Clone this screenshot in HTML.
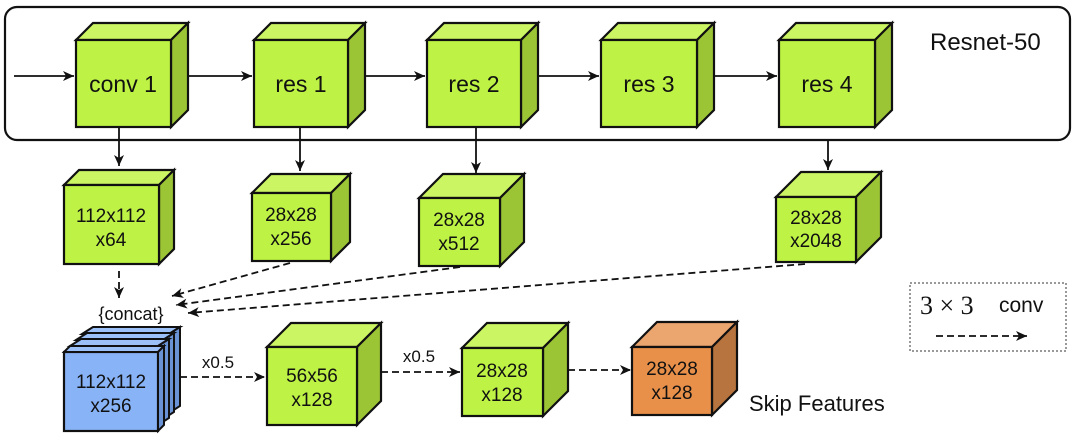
<!DOCTYPE html>
<html><head><meta charset="utf-8"><style>
html,body{margin:0;padding:0;background:#fff;}
svg{display:block;}
text{font-family:"Liberation Sans",sans-serif;fill:#111;}
.f{fill:#bef244;stroke:#111;stroke-width:2.2;}
.t{fill:#cbf562;stroke:#111;stroke-width:2.2;}
.s{fill:#9cc536;stroke:#111;stroke-width:2.2;}
.bf{fill:#88b3f7;stroke:#111;stroke-width:2.2;}
.bt{fill:#9cc0f8;stroke:#111;stroke-width:2;}
.bs{fill:#6a93d6;stroke:#111;stroke-width:2;}
.of{fill:#e8904a;stroke:#111;stroke-width:2.2;}
.ot{fill:#eba56e;stroke:#111;stroke-width:2.2;}
.os{fill:#b8743e;stroke:#111;stroke-width:2.2;}
.l{stroke:#111;stroke-width:1.8;fill:none;}
.d{stroke:#111;stroke-width:1.8;fill:none;stroke-dasharray:7,4;}
</style></head><body>
<svg width="1080" height="436" viewBox="0 0 1080 436" xmlns="http://www.w3.org/2000/svg">
<defs>
<marker id="a" markerWidth="12" markerHeight="10" refX="11" refY="5" orient="auto" markerUnits="userSpaceOnUse">
<path d="M0,0 L11,5 L0,10 L3,5 Z" fill="#111"/></marker>
</defs>
<rect x="5" y="7" width="1065" height="133" rx="12" fill="none" stroke="#111" stroke-width="2.2"/>
<text x="930" y="50" font-size="24">Resnet-50</text>

<line class="l" x1="14" y1="76" x2="74" y2="76" marker-end="url(#a)"/>
<line class="l" x1="189" y1="76" x2="252" y2="76" marker-end="url(#a)"/>
<line class="l" x1="366" y1="76" x2="425" y2="76" marker-end="url(#a)"/>
<line class="l" x1="539" y1="76" x2="599" y2="76" marker-end="url(#a)"/>
<line class="l" x1="714" y1="76" x2="777" y2="76" marker-end="url(#a)"/>

<g>
<polygon class="t" points="76,40 93,23 188,23 171,40"/><polygon class="s" points="171,40 188,23 188,110 171,127"/><rect class="f" x="76" y="40" width="95" height="87"/>
<text x="123" y="92" font-size="23" text-anchor="middle">conv 1</text>
<polygon class="t" points="254,40 271,23 365,23 348,40"/><polygon class="s" points="348,40 365,23 365,110 348,127"/><rect class="f" x="254" y="40" width="94" height="87"/>
<text x="301" y="92" font-size="23" text-anchor="middle">res 1</text>
<polygon class="t" points="427,40 444,23 538,23 521,40"/><polygon class="s" points="521,40 538,23 538,110 521,127"/><rect class="f" x="427" y="40" width="94" height="87"/>
<text x="474" y="92" font-size="23" text-anchor="middle">res 2</text>
<polygon class="t" points="601,40 618,23 714,23 697,40"/><polygon class="s" points="697,40 714,23 714,110 697,127"/><rect class="f" x="601" y="40" width="96" height="87"/>
<text x="649" y="92" font-size="23" text-anchor="middle">res 3</text>
<polygon class="t" points="779,40 796,23 892,23 875,40"/><polygon class="s" points="875,40 892,23 892,110 875,127"/><rect class="f" x="779" y="40" width="96" height="87"/>
<text x="827" y="92" font-size="23" text-anchor="middle">res 4</text>
</g>

<line class="l" x1="119" y1="127" x2="119" y2="166" marker-end="url(#a)"/>
<line class="l" x1="300" y1="127" x2="300" y2="171" marker-end="url(#a)"/>
<line class="l" x1="476" y1="127" x2="476" y2="173" marker-end="url(#a)"/>
<line class="l" x1="828" y1="140" x2="828" y2="170" marker-end="url(#a)"/>

<polygon class="t" points="64,185 79,170 174,170 159,185"/><polygon class="s" points="159,185 174,170 174,249 159,264"/><rect class="f" x="64" y="185" width="95" height="79"/>
<text x="111" y="222" font-size="19" text-anchor="middle">112x112</text><text x="111" y="246" font-size="19" text-anchor="middle">x64</text>

<polygon class="t" points="252,193 271,174 350,174 331,193"/><polygon class="s" points="331,193 350,174 350,242 331,261"/><rect class="f" x="252" y="193" width="79" height="68"/>
<text x="291" y="221" font-size="19" text-anchor="middle">28x28</text><text x="291" y="245" font-size="19" text-anchor="middle">x256</text>

<polygon class="t" points="419,198 443,174 524,174 500,198"/><polygon class="s" points="500,198 524,174 524,242 500,266"/><rect class="f" x="419" y="198" width="81" height="68"/>
<text x="459" y="226" font-size="19" text-anchor="middle">28x28</text><text x="459" y="250" font-size="19" text-anchor="middle">x512</text>

<polygon class="t" points="776,197 801,172 881,172 856,197"/><polygon class="s" points="856,197 881,172 881,237 856,262"/><rect class="f" x="776" y="197" width="80" height="65"/>
<text x="816" y="224" font-size="19" text-anchor="middle">28x28</text><text x="816" y="247" font-size="19" text-anchor="middle">x2048</text>

<line class="d" x1="119" y1="271" x2="119" y2="298" marker-end="url(#a)"/>
<line class="d" x1="290" y1="263" x2="172" y2="296" marker-end="url(#a)"/>
<line class="d" x1="460" y1="267" x2="176" y2="305" marker-end="url(#a)"/>
<line class="d" x1="805" y1="264" x2="188" y2="313" marker-end="url(#a)"/>
<text x="131" y="320" font-size="18" text-anchor="middle">{concat}</text>

<g>
<polygon class="bt" points="82,334 93,327 180,327 169,334"/><polygon class="bs" points="169,334 180,327 180,406 169,413"/>
<polygon class="bt" points="76,340 87,333 174,333 163,340"/><polygon class="bs" points="163,340 174,333 174,412 163,419"/>
<polygon class="bt" points="70,346 81,339 169,339 158,346"/><polygon class="bs" points="158,346 169,339 169,418 158,425"/>
<rect class="bf" x="64" y="352" width="94" height="79"/>
<polygon class="bt" points="64,352 70,346 164,346 158,352"/><polygon class="bs" points="158,352 164,346 164,425 158,431"/>
<text x="111" y="388" font-size="19" text-anchor="middle">112x112</text><text x="111" y="412" font-size="19" text-anchor="middle">x256</text>
</g>

<line class="d" x1="180" y1="377" x2="265" y2="377" marker-end="url(#a)"/>
<text x="218" y="368" font-size="17" text-anchor="middle">x0.5</text>

<polygon class="t" points="267,347 291,323 381,323 357,347"/><polygon class="s" points="357,347 381,323 381,401 357,425"/><rect class="f" x="267" y="347" width="90" height="78"/>
<text x="312" y="382" font-size="19" text-anchor="middle">56x56</text><text x="312" y="406" font-size="19" text-anchor="middle">x128</text>

<line class="d" x1="381" y1="372" x2="460" y2="372" marker-end="url(#a)"/>
<text x="419" y="362" font-size="17" text-anchor="middle">x0.5</text>

<polygon class="t" points="462,348 487,323 568,323 543,348"/><polygon class="s" points="543,348 568,323 568,391 543,416"/><rect class="f" x="462" y="348" width="81" height="68"/>
<text x="502" y="377" font-size="19" text-anchor="middle">28x28</text><text x="502" y="401" font-size="19" text-anchor="middle">x128</text>

<line class="d" x1="568" y1="370" x2="631" y2="370" marker-end="url(#a)"/>

<polygon class="ot" points="632,347 657,322 737,322 712,347"/><polygon class="os" points="712,347 737,322 737,390 712,415"/><rect class="of" x="632" y="347" width="80" height="68"/>
<text x="672" y="375" font-size="19" text-anchor="middle">28x28</text><text x="672" y="399" font-size="19" text-anchor="middle">x128</text>

<text x="749" y="411" font-size="22">Skip Features</text>

<rect x="910" y="283" width="156" height="68" fill="none" stroke="#333" stroke-width="1" stroke-dasharray="2,2"/>
<text x="920" y="314" font-size="26" style="font-family:'Liberation Serif',serif">3 × 3</text>
<text x="999" y="312" font-size="21">conv</text>
<line class="d" x1="936" y1="336" x2="1027" y2="336" marker-end="url(#a)"/>
</svg>
</body></html>
